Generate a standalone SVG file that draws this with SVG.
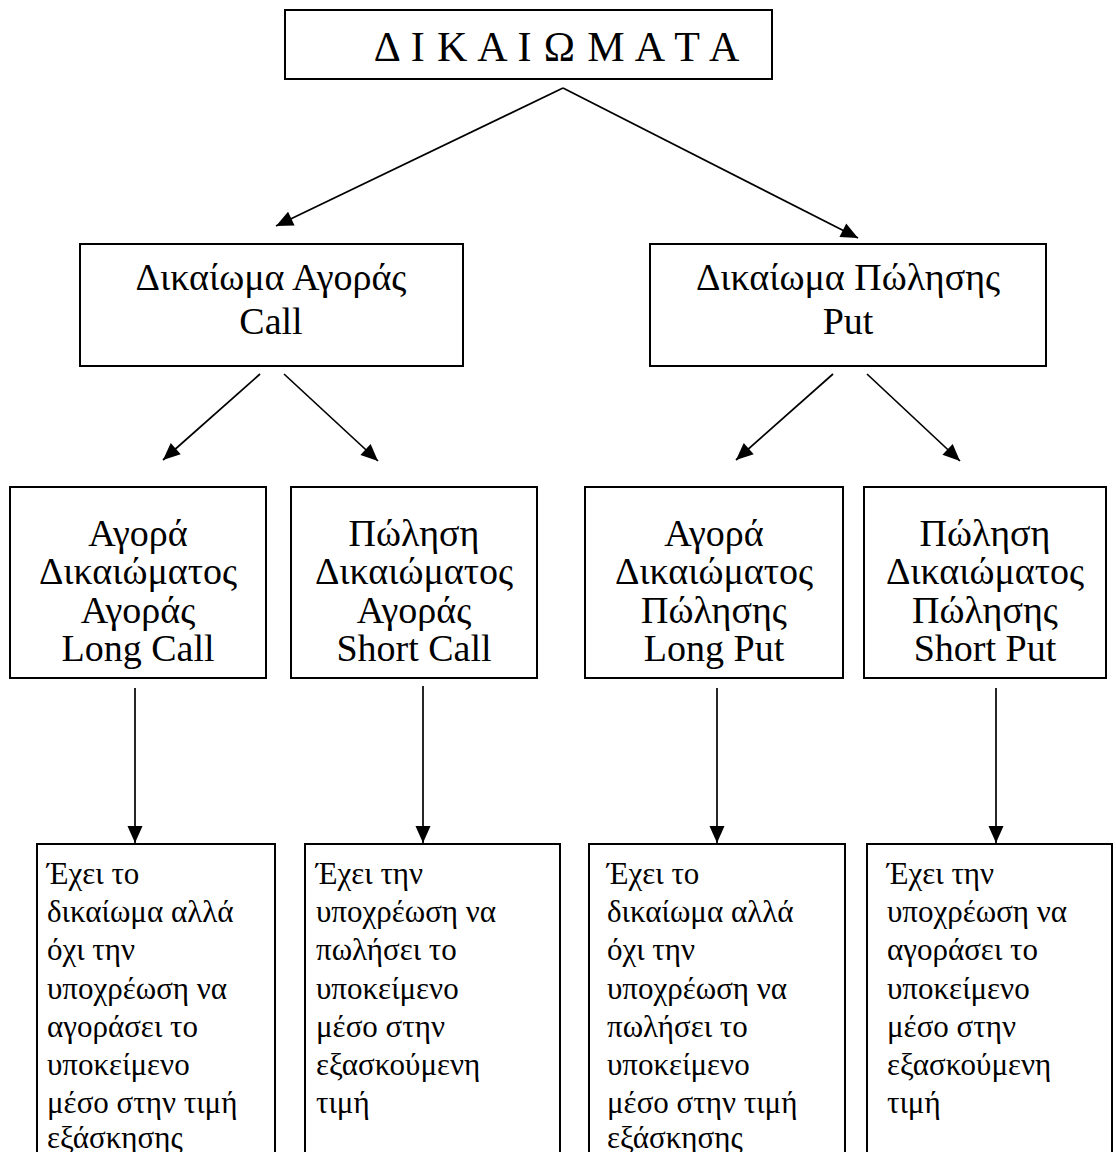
<svg xmlns="http://www.w3.org/2000/svg" width="1116" height="1152" viewBox="0 0 1116 1152">
<style>
  .box { fill: #fff; stroke: #000; stroke-width: 2; }
  .t { font-family: "Liberation Serif", "Times New Roman", serif; font-size: 38px; fill: #000; }
  .s { font-size: 31px; }
  .c { text-anchor: middle; }
  .edge { stroke: #000; stroke-width: 1.7; fill: none; marker-end: url(#ah); }
</style>
<defs>
  <marker id="ah" markerWidth="10" markerHeight="10" viewBox="0 0 10 10" refX="10" refY="5" orient="auto" markerUnits="userSpaceOnUse" style="overflow:visible">
    <path d="M-7,-2.5 L10,5 L-7,12.5 Z" fill="#000"/>
  </marker>
</defs>
<rect width="1116" height="1152" fill="#fff"/>

<g id="root">
  <rect class="box" x="285" y="10" width="487" height="69"/>
  <text class="t c" x="557" y="61" style="font-size:42px; letter-spacing:0.9px">Δ Ι Κ Α Ι Ω Μ Α Τ Α</text>
</g>

<g id="call">
  <rect class="box" x="80" y="244" width="383" height="122"/>
  <text class="t c" x="271" y="290">Δικαίωμα Αγοράς</text>
  <text class="t c" x="271" y="334">Call</text>
</g>

<g id="put">
  <rect class="box" x="650" y="244" width="396" height="122"/>
  <text class="t c" x="848" y="290">Δικαίωμα Πώλησης</text>
  <text class="t c" x="848" y="334">Put</text>
</g>

<g id="longcall">
  <rect class="box" x="10" y="487" width="256" height="191"/>
  <text class="t c" x="138" y="546">Αγορά</text>
  <text class="t c" x="138" y="584">Δικαιώματος</text>
  <text class="t c" x="138" y="623">Αγοράς</text>
  <text class="t c" x="138" y="661">Long Call</text>
</g>

<g id="shortcall">
  <rect class="box" x="291" y="487" width="246" height="191"/>
  <text class="t c" x="414" y="546">Πώληση</text>
  <text class="t c" x="414" y="584">Δικαιώματος</text>
  <text class="t c" x="414" y="623">Αγοράς</text>
  <text class="t c" x="414" y="661">Short Call</text>
</g>

<g id="longput">
  <rect class="box" x="585" y="487" width="258" height="191"/>
  <text class="t c" x="714" y="546">Αγορά</text>
  <text class="t c" x="714" y="584">Δικαιώματος</text>
  <text class="t c" x="714" y="623">Πώλησης</text>
  <text class="t c" x="714" y="661">Long Put</text>
</g>

<g id="shortput">
  <rect class="box" x="864" y="487" width="242" height="191"/>
  <text class="t c" x="985" y="546">Πώληση</text>
  <text class="t c" x="985" y="584">Δικαιώματος</text>
  <text class="t c" x="985" y="623">Πώλησης</text>
  <text class="t c" x="985" y="661">Short Put</text>
</g>

<g id="desc-longcall">
  <rect class="box" x="37" y="844" width="238" height="330"/>
  <text class="t s" x="47" y="884">Έχει το</text>
  <text class="t s" x="47" y="922">δικαίωμα αλλά</text>
  <text class="t s" x="47" y="960">όχι την</text>
  <text class="t s" x="47" y="999">υποχρέωση να</text>
  <text class="t s" x="47" y="1037">αγοράσει το</text>
  <text class="t s" x="47" y="1075">υποκείμενο</text>
  <text class="t s" x="47" y="1113">μέσο στην τιμή</text>
  <text class="t s" x="47" y="1148">εξάσκησης</text>
</g>

<g id="desc-shortcall">
  <rect class="box" x="305" y="844" width="255" height="330"/>
  <text class="t s" x="316" y="884">Έχει την</text>
  <text class="t s" x="316" y="922">υποχρέωση να</text>
  <text class="t s" x="316" y="960">πωλήσει το</text>
  <text class="t s" x="316" y="999">υποκείμενο</text>
  <text class="t s" x="316" y="1037">μέσο στην</text>
  <text class="t s" x="316" y="1075">εξασκούμενη</text>
  <text class="t s" x="316" y="1113">τιμή</text>
</g>

<g id="desc-longput">
  <rect class="box" x="589" y="844" width="256" height="330"/>
  <text class="t s" x="607" y="884">Έχει το</text>
  <text class="t s" x="607" y="922">δικαίωμα αλλά</text>
  <text class="t s" x="607" y="960">όχι την</text>
  <text class="t s" x="607" y="999">υποχρέωση να</text>
  <text class="t s" x="607" y="1037">πωλήσει το</text>
  <text class="t s" x="607" y="1075">υποκείμενο</text>
  <text class="t s" x="607" y="1113">μέσο στην τιμή</text>
  <text class="t s" x="607" y="1148">εξάσκησης</text>
</g>

<g id="desc-shortput">
  <rect class="box" x="867" y="844" width="245" height="330"/>
  <text class="t s" x="887" y="884">Έχει την</text>
  <text class="t s" x="887" y="922">υποχρέωση να</text>
  <text class="t s" x="887" y="960">αγοράσει το</text>
  <text class="t s" x="887" y="999">υποκείμενο</text>
  <text class="t s" x="887" y="1037">μέσο στην</text>
  <text class="t s" x="887" y="1075">εξασκούμενη</text>
  <text class="t s" x="887" y="1113">τιμή</text>
</g>

<g id="connectors">
  <line class="edge" x1="563" y1="88" x2="276" y2="226"/>
  <line class="edge" x1="563" y1="88" x2="858" y2="238"/>
  <line class="edge" x1="260" y1="374" x2="163" y2="460"/>
  <line class="edge" x1="284" y1="374" x2="378" y2="461"/>
  <line class="edge" x1="833" y1="374" x2="736" y2="460"/>
  <line class="edge" x1="867" y1="374" x2="960" y2="461"/>
  <line class="edge" x1="135" y1="688" x2="135" y2="843"/>
  <line class="edge" x1="423" y1="686" x2="423" y2="843"/>
  <line class="edge" x1="717" y1="688" x2="717" y2="843"/>
  <line class="edge" x1="996" y1="688" x2="996" y2="843"/>
</g>
</svg>
